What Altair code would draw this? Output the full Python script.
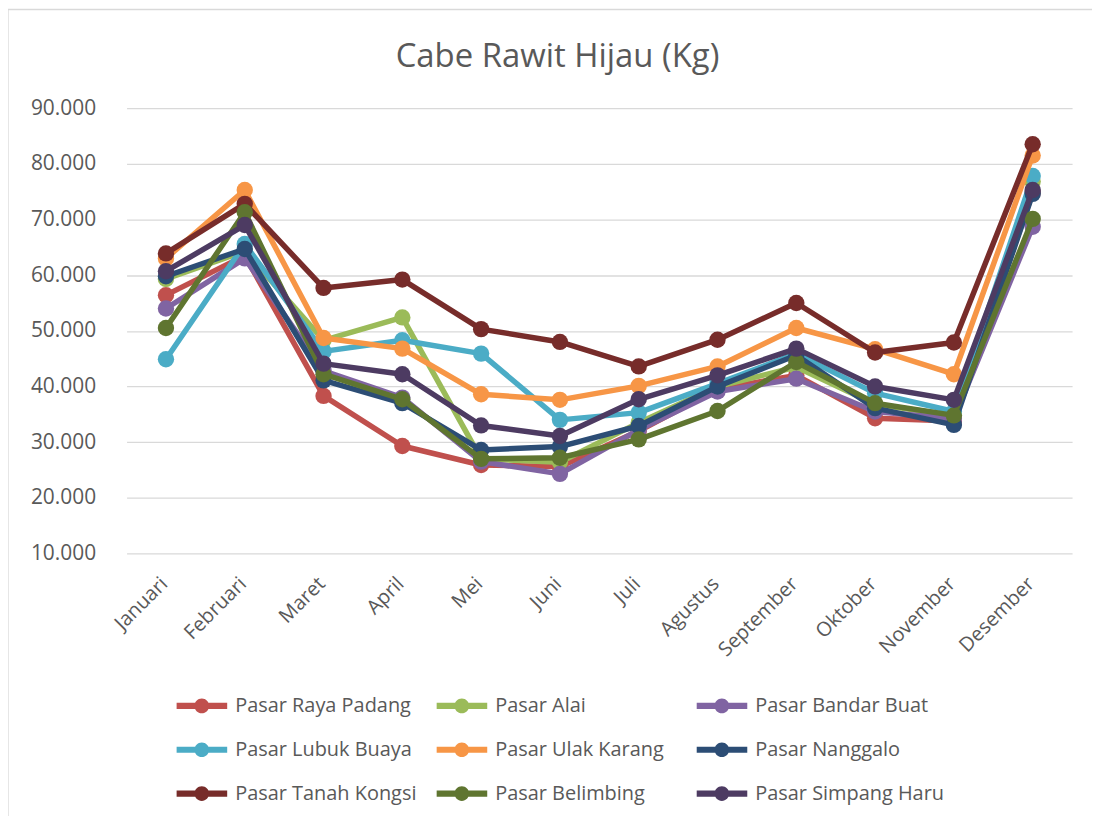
import altair as alt
import pandas as pd

months = ["Januari", "Februari", "Maret", "April", "Mei", "Juni", "Juli",
          "Agustus", "September", "Oktober", "November", "Desember"]

series_names = ["Pasar Raya Padang", "Pasar Alai", "Pasar Bandar Buat",
                "Pasar Lubuk Buaya", "Pasar Ulak Karang", "Pasar Nanggalo",
                "Pasar Tanah Kongsi", "Pasar Belimbing", "Pasar Simpang Haru"]

colors = ["#C0504D", "#9BBB59", "#8064A2", "#4BACC6", "#F79646", "#2C4D75",
          "#772C2A", "#5F7530", "#4D3B62"]

raya_padang = [56400, 63500, 38300, 29300, 25900, 25600, 32000, 39500, 42000, 34300, 33800, 74800]
alai = [59300, 64300, 48300, 52400, 27000, 26400, 33500, 40000, 43500, 36800, 34800, 76800]
bandar_buat = [54000, 63000, 42800, 38000, 26500, 24300, 32200, 39100, 41400, 35500, 34200, 68700]
lubuk_buaya = [44900, 65600, 46300, 48300, 45900, 34000, 35300, 40500, 45900, 38800, 35500, 77800]
ulak_karang = [63000, 75300, 48700, 46800, 38600, 37600, 40100, 43600, 50500, 46700, 42200, 81500]
nanggalo = [59800, 64700, 41100, 37000, 28600, 29200, 32900, 40000, 45600, 36100, 33100, 74600]
tanah_kongsi = [63900, 72800, 57700, 59200, 50300, 48000, 43600, 48400, 55000, 46100, 47900, 83500]
belimbing = [50500, 71300, 42200, 37700, 27000, 27200, 30500, 35600, 44400, 37000, 34800, 70100]
simpang_haru = [60700, 69000, 44100, 42200, 33000, 31100, 37700, 42000, 46800, 40000, 37600, 75300]

y_ticks = [10000, 20000, 30000, 40000, 50000, 60000, 70000, 80000, 90000]

all_values = [raya_padang, alai, bandar_buat, lubuk_buaya, ulak_karang,
              nanggalo, tanah_kongsi, belimbing, simpang_haru]

rows = []
for name, vals in zip(series_names, all_values):
    for m, v in zip(months, vals):
        rows.append({"Bulan": m, "Pasar": name, "Harga": v})
df = pd.DataFrame(rows)

FONT = "Open Sans"
TXT = "#595959"
PLOT_W, PLOT_H = 949, 447

legend_path = ("M -1 -0.12 L 1 -0.12 L 1 0.12 L -1 0.12 Z "
               "M 0.29 0 A 0.29 0.29 0 1 1 -0.29 0 A 0.29 0.29 0 1 1 0.29 0 Z")

legend = alt.Legend(
    title=None, orient="none", legendX=50, legendY=590, direction="horizontal",
    columns=3, gridAlign="all", columnPadding=12, rowPadding=24,
    symbolType=legend_path, symbolSize=2601, symbolStrokeWidth=0,
    symbolOpacity=1,
    clipHeight=20, labelOffset=8, labelFont=FONT, labelFontSize=20,
    labelColor=TXT, labelLimit=400, padding=0,
)

x_enc = alt.X("Bulan:N", sort=months,
              scale=alt.Scale(type="point", padding=0.5),
              axis=alt.Axis(title=None, labelAngle=-45, labelAlign="right",
                            labelBaseline="middle", labelPadding=27, labelOffset=-2,
                            ticks=False, domain=False, grid=False,
                            labelFont=FONT, labelFontSize=20, labelColor=TXT))
y_enc = alt.Y("Harga:Q",
              scale=alt.Scale(domain=[10000, 90000], nice=False, zero=False),
              axis=alt.Axis(title=None, values=y_ticks,
                            labelExpr="replace(format(datum.value, ','), ',', '.')",
                            labelPadding=31, ticks=False, domain=False,
                            grid=True, gridColor="#D9D9D9", gridWidth=1.3,
                            labelFont=FONT, labelFontSize=21, labelColor=TXT))
color_enc = alt.Color("Pasar:N", scale=alt.Scale(domain=series_names, range=colors),
                      legend=legend)

base = alt.Chart(df)
layers = []
for name in series_names:
    flt = alt.datum.Pasar == name
    layers.append(base.transform_filter(flt).mark_line(
        strokeWidth=5.5, strokeJoin="round", strokeCap="round"
    ).encode(x=x_enc, y=y_enc, color=color_enc))
    layers.append(base.transform_filter(flt).mark_point(
        filled=True, size=270, opacity=1
    ).encode(x=x_enc, y=y_enc, color=color_enc))

# chart-area border (top and left edges, as visible in the reference)
one = pd.DataFrame({"a": [0]})
border_left = alt.Chart(one).mark_rule(color="#D9D9D9", strokeWidth=1.3, clip=False).encode(
    x=alt.value(-119), y=alt.value(-99), y2=alt.value(716))
border_top = alt.Chart(one).mark_rule(color="#D9D9D9", strokeWidth=1.3, clip=False).encode(
    x=alt.value(-119), x2=alt.value(969), y=alt.value(-99))

chart = alt.layer(*layers, border_left, border_top).properties(
    width=PLOT_W, height=PLOT_H,
    padding={"left": 119, "top": 99, "right": 20, "bottom": 262},
    autosize=alt.AutoSizeParams(type="none"),
    background="white",
    title=alt.TitleParams("Cabe Rawit Hijau (Kg)", font=FONT, fontSize=33,
                          fontWeight="normal", color=TXT, anchor="middle",
                          frame="group", dx=-42, offset=-65),
).configure_view(stroke=None)

chart.save("out.html", embed_options={"renderer": "svg", "actions": False})
